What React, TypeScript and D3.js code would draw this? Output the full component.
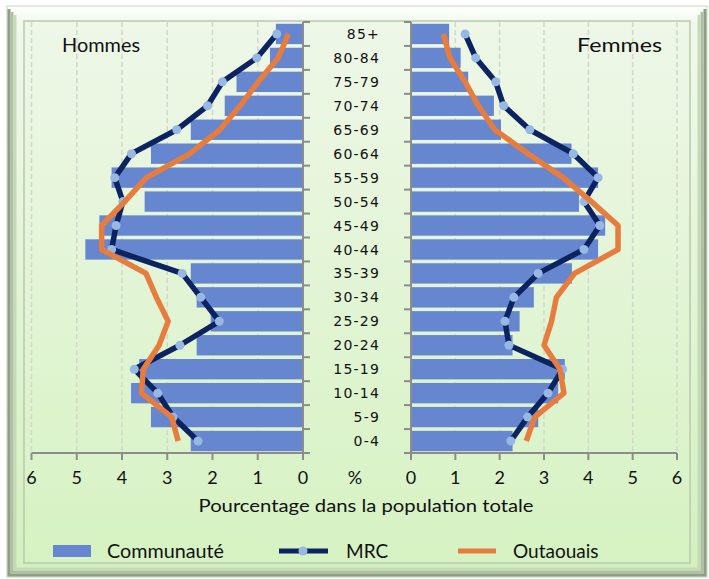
import * as d3 from 'd3';

const AGES = ['85+', '80-84', '75-79', '70-74', '65-69', '60-64', '55-59', '50-54', '45-49',
  '40-44', '35-39', '30-34', '25-29', '20-24', '15-19', '10-14', '5-9', '0-4'];

const HOMMES_COMMUNAUTE = [0.6, 0.73, 1.47, 1.73, 2.48, 3.36, 4.23, 3.5, 4.5, 4.81, 2.48, 2.35, 2.04, 2.35, 3.62, 3.8, 3.36, 2.48];
const HOMMES_MRC = [0.58, 1.02, 1.78, 2.11, 2.79, 3.79, 4.16, 3.98, 4.13, 4.23, 2.67, 2.26, 1.85, 2.72, 3.73, 3.21, 2.87, 2.32];
const HOMMES_OUTAOUAIS = [0.32, 0.55, 0.99, 1.39, 1.84, 2.5, 3.46, 3.94, 4.45, 4.45, 3.47, 3.24, 2.98, 3.18, 3.53, 3.57, 2.9, 2.76];

const FEMMES_COMMUNAUTE = [0.86, 1.12, 1.29, 1.87, 2.03, 3.62, 4.22, 3.79, 4.38, 4.22, 3.63, 2.77, 2.45, 2.29, 3.47, 3.32, 2.87, 2.29];
const FEMMES_MRC = [1.22, 1.46, 1.91, 2.09, 2.68, 3.66, 4.22, 3.9, 4.26, 3.9, 2.87, 2.32, 2.12, 2.21, 3.42, 3.09, 2.63, 2.25];
const FEMMES_OUTAOUAIS = [0.73, 0.88, 1.22, 1.52, 1.89, 2.64, 3.43, 4.07, 4.67, 4.67, 3.69, 3.28, 3.17, 3.0, 3.36, 3.45, 2.79, 2.6];

const X_TICKS = [0, 1, 2, 3, 4, 5, 6];

const BAR = '#6686d0';
const NAVY = '#0b2461';
const ORANGE = '#e67d3e';
const MARKER = '#97b8e2';
const AXIS = '#8c8c8c';
const GRID = '#d2d6cc';
const FONT = 'Lato, "Open Sans", sans-serif';
const AGE_FONT = '"DejaVu Sans", sans-serif';

const TOP = 22;
const BOTTOM = 453;

export default function App() {
  const y = d3.scaleBand<string>().domain(AGES).range([TOP, BOTTOM]).paddingInner(0.15).paddingOuter(0.075);
  const step = (BOTTOM - TOP) / AGES.length;
  const cy = (a: string) => (y(a) ?? 0) + y.bandwidth() / 2;

  const xL = d3.scaleLinear().domain([0, 6]).range([303, 31.5]);
  const xR = d3.scaleLinear().domain([0, 6]).range([411, 677]);

  const lineL = d3.line<number>().x(d => xL(d)).y((_, i) => cy(AGES[i]));
  const lineR = d3.line<number>().x(d => xR(d)).y((_, i) => cy(AGES[i]));

  const boundaries = d3.range(AGES.length + 1).map(i => TOP + i * step);

  const side = (
    x: d3.ScaleLinear<number, number>,
    line: d3.Line<number>,
    comm: number[],
    mrc: number[],
    outa: number[],
    left: boolean,
  ) => (
    <g>
      {X_TICKS.filter(t => t > 0).map(t => (
        <line key={'g' + t} x1={x(t)} x2={x(t)} y1={TOP} y2={BOTTOM}
          stroke={GRID} strokeWidth={1.5} strokeDasharray="5,3" />
      ))}
      {comm.map((v, i) => (
        <rect key={'b' + i} x={Math.min(x(0), x(v))} width={Math.abs(x(v) - x(0))}
          y={y(AGES[i])} height={y.bandwidth()} fill={BAR} />
      ))}
      <line x1={x(0)} x2={x(0)} y1={TOP} y2={BOTTOM} stroke={AXIS} strokeWidth={2} />
      {boundaries.map((b, i) => (
        <line key={'t' + i} x1={x(0)} x2={x(0) + (left ? 7 : -7)} y1={b} y2={b} stroke={AXIS} strokeWidth={2} />
      ))}
      <line x1={x(0)} x2={x(6)} y1={BOTTOM} y2={BOTTOM} stroke={AXIS} strokeWidth={2} />
      {X_TICKS.map(t => (
        <g key={'x' + t}>
          <line x1={x(t)} x2={x(t)} y1={BOTTOM} y2={BOTTOM + 7} stroke={AXIS} strokeWidth={2} />
          <text x={x(t)} y={484} textAnchor="middle" fontFamily={FONT} fontSize={18} fill="#111">{t}</text>
        </g>
      ))}
      <path d={line(mrc) ?? ''} fill="none" stroke={NAVY} strokeWidth={5.5} strokeLinejoin="round" />
      {mrc.map((v, i) => (
        <circle key={'m' + i} cx={x(v)} cy={cy(AGES[i])} r={4.5} fill={MARKER} />
      ))}
      <path d={line(outa) ?? ''} fill="none" stroke={ORANGE} strokeWidth={5.5} strokeLinejoin="round" />
    </g>
  );

  return (
    <svg width={709} height={579} style={{ position: 'absolute', left: 0, top: 0, background: '#fff' }}>
      <defs>
        <linearGradient id="outerBg" x1="0" y1="0" x2="0" y2="1">
          <stop offset="0" stopColor="#ffffff" />
          <stop offset="0.03" stopColor="#f1f8ec" />
          <stop offset="1" stopColor="#d2f0bd" />
        </linearGradient>
        <linearGradient id="innerBg" x1="0" y1="0" x2="0" y2="1">
          <stop offset="0" stopColor="#eef7e8" />
          <stop offset="1" stopColor="#d6f2c2" />
        </linearGradient>
      </defs>
      {/* frame */}
      <rect x={7} y={6} width={700} height={571} fill="url(#outerBg)" stroke="#c9d3c2" strokeWidth={1} />
      <path d="M9,9 V575 H705 V9" fill="none" stroke="#8e9f85" strokeWidth={3} />
      <path d="M12,12 V572 H702 V12" fill="none" stroke="#aebfa4" strokeWidth={3} />
      <path d="M15,15 V569 H699 V15" fill="none" stroke="#c6d9b8" strokeWidth={3} />
      <rect x={24} y={21} width={666} height={542} fill="url(#innerBg)" stroke="#b8c9ad" strokeWidth={1.5} />

      {side(xL, lineL, HOMMES_COMMUNAUTE, HOMMES_MRC, HOMMES_OUTAOUAIS, true)}
      {side(xR, lineR, FEMMES_COMMUNAUTE, FEMMES_MRC, FEMMES_OUTAOUAIS, false)}

      {AGES.map(a => (
        <text key={a} x={380} y={cy(a)} dy="0.36em" textAnchor="end" fontFamily={AGE_FONT}
          fontSize={14} letterSpacing={1.2} fill="#111">{a}</text>
      ))}
      <text x={355} y={484} textAnchor="middle" fontFamily={FONT} fontSize={18} fill="#111">%</text>

      <text x={62} y={52} fontFamily={FONT} fontSize={20} fill="#111"
        textLength={78} lengthAdjust="spacingAndGlyphs">Hommes</text>
      <text x={577} y={52} fontFamily={FONT} fontSize={20} fill="#111"
        textLength={85} lengthAdjust="spacingAndGlyphs">Femmes</text>

      <text x={366} y={512} textAnchor="middle" fontFamily={FONT} fontSize={18} fill="#111"
        textLength={335} lengthAdjust="spacingAndGlyphs">Pourcentage  dans la population totale</text>

      {/* legend */}
      <rect x={53} y={545} width={38} height={12} fill={BAR} />
      <text x={107} y={558} fontFamily={FONT} fontSize={19} fill="#111"
        textLength={117} lengthAdjust="spacingAndGlyphs">Communauté</text>
      <line x1={279} x2={328} y1={551} y2={551} stroke={NAVY} strokeWidth={5} />
      <circle cx={303} cy={551} r={4.5} fill={MARKER} />
      <text x={346} y={558} fontFamily={FONT} fontSize={19} fill="#111">MRC</text>
      <line x1={458} x2={496} y1={551} y2={551} stroke={ORANGE} strokeWidth={5} />
      <text x={513} y={558} fontFamily={FONT} fontSize={19} fill="#111">Outaouais</text>
    </svg>
  );
}
